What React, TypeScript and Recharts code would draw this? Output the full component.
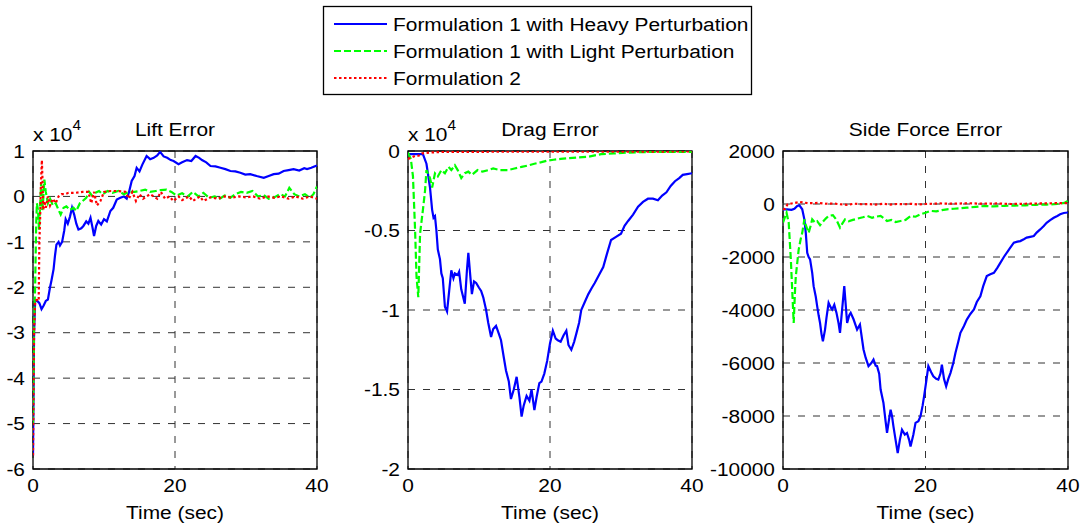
import React from 'react';
import { LineChart, Line, XAxis, YAxis, CartesianGrid, ReferenceArea } from 'recharts';

type Pt = [number, number];

const FONT = '"Liberation Sans", Arial, Helvetica, sans-serif';

const SERIES_NAMES = [
  'Formulation 1 with Heavy Perturbation',
  'Formulation 1 with Light Perturbation',
  'Formulation 2',
];
const PANEL_TITLES = ['Lift Error', 'Drag Error', 'Side Force Error'];
const X_LABEL = 'Time (sec)';
const TIME_TICKS = [0, 20, 40];
const LIFT_TICKS = [-6, -5, -4, -3, -2, -1, 0, 1];
const DRAG_TICKS = [-2, -1.5, -1, -0.5, 0];
const SIDE_TICKS = [-10000, -8000, -6000, -4000, -2000, 0, 2000];

// Lift error (x 10^4)
const liftHeavy: Pt[] = [[0,-5.7],[0.15,-3.0],[0.3,-2.3],[0.6,-2.3],[0.9,-2.35],[1.2,-2.48],[1.5,-2.4],[1.8,-2.3],[2.1,-2.27],[2.4,-2.0],[2.6,-1.85],[2.9,-1.6],[3.1,-1.3],[3.3,-1.06],[3.6,-1.0],[3.8,-1.08],[4.1,-1.0],[4.4,-0.75],[4.6,-0.5],[4.9,-0.6],[5.2,-0.45],[5.5,-0.25],[5.8,-0.4],[6.1,-0.6],[6.4,-0.73],[6.8,-0.7],[7.1,-0.65],[7.5,-0.55],[7.8,-0.6],[8.1,-0.47],[8.4,-0.7],[8.6,-0.87],[8.9,-0.65],[9.2,-0.54],[9.6,-0.62],[10,-0.5],[10.4,-0.55],[10.9,-0.32],[11.3,-0.25],[11.8,-0.07],[12.3,-0.03],[12.8,0.0],[13.2,-0.05],[13.5,0.08],[13.9,0.34],[14.3,0.45],[14.6,0.63],[15,0.55],[15.4,0.7],[16,0.89],[16.5,0.82],[17,0.85],[17.5,0.9],[17.9,0.98],[18.4,0.88],[18.9,0.85],[19.4,0.8],[19.8,0.78],[20.5,0.71],[21,0.75],[21.7,0.8],[22.3,0.78],[22.9,0.89],[23.4,0.85],[23.8,0.8],[24.4,0.75],[25,0.67],[25.7,0.66],[26.4,0.63],[27.1,0.6],[27.8,0.56],[28.5,0.55],[29.2,0.52],[29.9,0.48],[30.6,0.49],[31.5,0.45],[32.5,0.41],[33.2,0.45],[33.9,0.49],[34.6,0.5],[35.3,0.56],[36,0.58],[36.7,0.6],[37.5,0.57],[38.2,0.62],[38.6,0.6],[39.2,0.63],[39.8,0.67],[40,0.68]];
const liftLight: Pt[] = [[0,-5.0],[0.15,-2.8],[0.3,-2.0],[0.45,-0.6],[0.55,-0.15],[0.7,-0.3],[0.85,-0.73],[1.0,-0.2],[1.15,0.3],[1.3,-0.3],[1.45,-0.05],[1.6,0.37],[1.8,0.1],[2.1,-0.15],[2.4,-0.05],[2.8,-0.2],[3.2,-0.15],[3.6,-0.3],[3.9,-0.4],[4.3,-0.25],[4.7,-0.22],[5.2,-0.3],[5.7,-0.25],[6.1,-0.32],[6.6,-0.15],[7,-0.1],[7.5,-0.03],[7.9,0.1],[8.3,0.02],[8.8,0.08],[9.3,0.12],[9.8,0.05],[10.5,0.12],[11.2,0.08],[12,0.12],[12.8,0.05],[13.5,0.1],[14.3,0.1],[15,0.12],[15.8,0.15],[16.5,0.1],[17.3,0.12],[18,0.14],[18.8,0.15],[19.5,0.1],[20.2,0.02],[21,0.07],[21.8,0.0],[22.5,0.1],[23.3,0.0],[24,0.08],[24.8,-0.03],[25.6,0.0],[26.3,-0.05],[27,0.02],[27.8,-0.03],[28.5,0.05],[29.3,0.1],[30.1,0.08],[30.9,0.12],[31.7,0.0],[32.5,0.03],[33.2,-0.05],[34,-0.02],[34.8,0.05],[35.5,0.0],[36.1,0.19],[36.8,0.05],[37.5,0.0],[38.3,0.05],[39,-0.03],[39.5,0.05],[40,0.22]];
const liftF2: Pt[] = [[0,-5.7],[0.15,-3.0],[0.3,-2.3],[0.5,-2.28],[0.8,-2.3],[0.9,-1.0],[1.0,-0.5],[1.1,0.2],[1.25,0.8],[1.35,0.3],[1.45,-0.3],[1.6,-0.1],[1.8,-0.25],[2.1,0.0],[2.4,-0.2],[2.8,-0.05],[3.2,-0.15],[3.6,0.0],[4.0,0.05],[4.5,0.05],[5,0.08],[6,0.08],[7,0.1],[7.8,0.1],[8.2,-0.15],[8.6,0.1],[9.0,-0.2],[9.5,-0.1],[10,0.1],[11,0.12],[12,0.12],[13,0.1],[13.5,-0.05],[14,0.1],[14.5,-0.1],[15,0.05],[15.5,-0.05],[16.5,0.05],[17.5,-0.05],[18,0.1],[18.6,-0.05],[19.2,0.0],[19.8,-0.1],[20.5,0.0],[21,-0.08],[22,0.0],[22.5,-0.1],[23.5,0.0],[24,-0.1],[25,-0.02],[26,-0.05],[27,0.0],[28,-0.03],[29,0.0],[30,-0.02],[31,0.0],[32,-0.05],[33,0.0],[34,-0.03],[35,0.0],[36,-0.05],[37,0.0],[38,-0.05],[39,0.0],[40,-0.05]];

// Drag error (x 10^4)
const dragHeavy: Pt[] = [[0,-0.02],[1,-0.02],[2.1,-0.02],[2.6,-0.08],[3.1,-0.23],[3.4,-0.37],[3.6,-0.42],[3.8,-0.41],[4.0,-0.5],[4.2,-0.62],[4.5,-0.68],[4.7,-0.77],[4.9,-0.8],[5.2,-0.98],[5.5,-1.01],[5.8,-0.88],[6.1,-0.75],[6.4,-0.8],[6.6,-0.77],[7.0,-0.78],[7.2,-0.76],[7.5,-0.87],[8.0,-0.96],[8.3,-0.75],[8.5,-0.64],[8.8,-0.8],[9.0,-0.9],[9.3,-0.82],[9.6,-0.83],[10,-0.86],[10.3,-0.88],[10.6,-0.92],[11,-1.0],[11.3,-1.08],[11.7,-1.17],[12.0,-1.12],[12.4,-1.1],[12.8,-1.15],[13.1,-1.19],[13.5,-1.3],[13.8,-1.38],[14.2,-1.45],[14.5,-1.56],[14.9,-1.5],[15.3,-1.42],[15.7,-1.55],[16,-1.67],[16.3,-1.6],[16.7,-1.54],[17.1,-1.57],[17.4,-1.5],[17.8,-1.63],[18.1,-1.55],[18.5,-1.46],[18.8,-1.45],[19.2,-1.4],[19.6,-1.32],[20,-1.21],[20.4,-1.13],[20.8,-1.18],[21.1,-1.19],[21.5,-1.2],[21.9,-1.16],[22.3,-1.13],[22.6,-1.22],[23,-1.25],[23.4,-1.2],[23.7,-1.15],[24.1,-1.08],[24.4,-1.0],[24.9,-0.95],[25.4,-0.9],[25.9,-0.86],[26.3,-0.83],[26.9,-0.78],[27.5,-0.73],[28,-0.65],[28.6,-0.56],[29.3,-0.54],[30,-0.52],[30.5,-0.47],[31,-0.44],[31.7,-0.4],[32.4,-0.35],[33.1,-0.32],[33.8,-0.3],[34.5,-0.3],[35.2,-0.31],[35.8,-0.28],[36.4,-0.26],[37,-0.22],[37.6,-0.19],[38.2,-0.17],[38.7,-0.15],[39.3,-0.145],[40,-0.14]];
const dragLight: Pt[] = [[0,-0.01],[0.4,-0.05],[0.7,-0.16],[1,-0.5],[1.2,-0.79],[1.45,-0.92],[1.7,-0.52],[2.1,-0.37],[2.4,-0.25],[2.6,-0.12],[3.1,-0.17],[3.4,-0.23],[3.8,-0.14],[4.2,-0.16],[4.7,-0.12],[5.2,-0.14],[5.7,-0.1],[6.1,-0.12],[6.6,-0.09],[7.0,-0.12],[7.5,-0.17],[8,-0.14],[8.5,-0.13],[9,-0.15],[9.8,-0.12],[10.5,-0.13],[11.3,-0.12],[12,-0.11],[13,-0.12],[14.1,-0.12],[15,-0.11],[16,-0.1],[17,-0.09],[17.8,-0.08],[18.8,-0.07],[19.7,-0.06],[20.5,-0.055],[21.5,-0.05],[22.5,-0.045],[24,-0.04],[25.5,-0.035],[27.2,-0.02],[29,-0.015],[31,-0.01],[34,-0.006],[37,-0.005],[40,-0.005]];
const dragF2: Pt[] = [[0,-0.05],[0.5,-0.04],[1,-0.03],[1.5,-0.03],[2,-0.015],[3,-0.01],[5,-0.005],[10,-0.005],[20,-0.004],[30,-0.004],[40,-0.003]];

// Side force error
const sideHeavy: Pt[] = [[0,-200],[0.56,-200],[1.2,-220],[1.6,-180],[2,-75],[2.3,-50],[2.7,-200],[3,-580],[3.2,-1100],[3.4,-1840],[3.6,-2000],[3.8,-2090],[4.1,-2600],[4.3,-3100],[4.6,-3500],[4.8,-3860],[5.0,-4200],[5.2,-4490],[5.4,-4900],[5.6,-5180],[5.9,-4740],[6.1,-4300],[6.4,-3730],[6.7,-3900],[6.9,-3980],[7.2,-3800],[7.5,-4100],[7.8,-4500],[8,-4860],[8.3,-3980],[8.6,-3100],[9,-4490],[9.3,-4200],[9.5,-4110],[9.9,-4350],[10.4,-4740],[10.8,-4550],[11.3,-5490],[11.6,-5800],[12,-6120],[12.4,-6000],[12.7,-5870],[13,-6100],[13.2,-6120],[13.5,-6400],[13.7,-7000],[14.1,-7510],[14.4,-8200],[14.6,-8640],[14.9,-8100],[15.1,-7760],[15.3,-8000],[15.5,-8390],[15.8,-8900],[16.1,-9400],[16.4,-8900],[16.7,-8520],[17.1,-8700],[17.4,-8640],[17.7,-8900],[17.9,-9150],[18.3,-8700],[18.6,-8260],[19,-8200],[19.3,-8010],[19.6,-7600],[19.8,-7260],[20.1,-6700],[20.4,-6120],[20.8,-6350],[21.1,-6500],[21.5,-6600],[21.8,-6630],[22.1,-6400],[22.3,-6060],[22.6,-6600],[22.9,-6880],[23.2,-6600],[23.5,-6380],[23.9,-6000],[24.2,-5620],[24.6,-5200],[24.9,-4860],[25.4,-4600],[25.8,-4360],[26.3,-4150],[26.8,-3980],[27.2,-3700],[27.7,-3480],[28.1,-3100],[28.6,-2720],[29.1,-2650],[29.6,-2600],[30.1,-2400],[30.5,-2220],[31,-2000],[31.4,-1840],[31.9,-1650],[32.4,-1460],[32.9,-1420],[33.3,-1400],[33.8,-1330],[34.2,-1270],[34.7,-1240],[35.2,-1210],[35.6,-1080],[36.1,-960],[36.6,-830],[37,-710],[37.5,-610],[38,-520],[38.5,-450],[38.9,-390],[39.4,-340],[40,-320]];
const sideLight: Pt[] = [[0,-700],[0.5,-330],[0.8,-700],[1.1,-2090],[1.3,-3300],[1.5,-4490],[1.7,-3200],[1.8,-2720],[2.2,-1720],[2.5,-1300],[2.7,-1090],[3,-580],[3.2,-800],[3.6,-1090],[3.9,-800],[4.1,-580],[4.5,-700],[4.8,-650],[5.2,-800],[5.5,-700],[6,-550],[6.4,-450],[7,-420],[7.5,-600],[8,-890],[8.3,-750],[8.7,-580],[9.2,-650],[9.8,-600],[10.5,-550],[11.2,-500],[11.8,-450],[12.5,-520],[13,-480],[13.7,-450],[14.2,-550],[14.6,-640],[15.2,-600],[15.8,-680],[16.5,-640],[17.2,-600],[17.9,-450],[18.6,-480],[19.3,-390],[20,-330],[20.7,-260],[21.5,-280],[22.3,-230],[23,-200],[24,-180],[25,-160],[25.8,-140],[27,-110],[28.2,-75],[29.5,-90],[31,-70],[32.5,-60],[34,-50],[35.5,-30],[37,-20],[38.5,0],[39.5,40],[40,120]];
const sideF2: Pt[] = [[0,-200],[0.3,-180],[0.65,-12],[1.2,20],[2.4,75],[3.5,30],[5,40],[6,10],[7,20],[8,-10],[9,-30],[10,10],[11,-10],[12,0],[13,-20],[14,10],[15,-20],[16,0],[17,-10],[18,10],[19,-20],[20,0],[22,20],[24,10],[26,30],[28,10],[30,20],[32,0],[34,10],[36,20],[38,30],[40,30]];

const STYLES = [
  { color: '#0000FF', dash: undefined as string | undefined },
  { color: '#00FF00', dash: '7 3' },
  { color: '#FF0000', dash: '2.5 2.5' },
];

const toData = (pts: Pt[]) => pts.map(([t, v]) => ({ t, v }));

const FS = 19;
const SX = 1.1;

function YTick(props: any) {
  const { x, y, payload } = props;
  return (
    <text transform={`translate(${x},${y}) scale(${SX},1)`} textAnchor="end" dy="0.355em" fontSize={FS} fontFamily={FONT} fill="#000">
      {String(payload.value)}
    </text>
  );
}

function XTick(props: any) {
  const { x, y, payload } = props;
  return (
    <text transform={`translate(${x},${y}) scale(${SX},1)`} textAnchor="middle" dy="0.71em" fontSize={FS} fontFamily={FONT} fill="#000">
      {String(payload.value)}
    </text>
  );
}

function SText({ x, y, anchor, children, size = FS }: { x: number; y: number; anchor?: 'start' | 'middle' | 'end'; children: React.ReactNode; size?: number }) {
  return (
    <text transform={`translate(${x},${y}) scale(${SX},1)`} textAnchor={anchor || 'start'} fontSize={size} fontFamily={FONT} fill="#000">
      {children}
    </text>
  );
}

type PanelProps = {
  left: number;
  width: number;
  yw: number;
  mr: number;
  ticks: number[];
  series: Pt[][];
};

function Panel({ left, width, yw, mr, ticks, series }: PanelProps) {
  const domain: [number, number] = [ticks[0], ticks[ticks.length - 1]];
  return (
    <div style={{ position: 'absolute', left, top: 100 }}>
      <LineChart width={width} height={427} margin={{ top: 51, right: mr, bottom: 28, left: 0 }}>
        <CartesianGrid stroke="#333" strokeDasharray="7 8" />
        <XAxis
          dataKey="t"
          type="number"
          domain={[0, 40]}
          ticks={TIME_TICKS}
          interval={0}
          allowDataOverflow
          height={30}
          tickLine={false}
          axisLine={false}
          tickMargin={4}
          tick={<XTick />}
        />
        <YAxis
          type="number"
          domain={domain}
          ticks={ticks}
          interval={0}
          allowDataOverflow
          width={yw}
          tickLine={false}
          axisLine={false}
          tick={<YTick />}
        />
        <ReferenceArea
          x1={0}
          x2={40}
          y1={domain[0]}
          y2={domain[1]}
          fill="none"
          fillOpacity={0}
          stroke="#000"
          strokeWidth={1.3}
          ifOverflow="visible"
        />
        {series.map((pts, i) => (
          <Line
            key={i}
            data={toData(pts)}
            dataKey="v"
            name={SERIES_NAMES[i]}
            stroke={STYLES[i].color}
            strokeWidth={2.2}
            strokeDasharray={STYLES[i].dash}
            dot={false}
            activeDot={false}
            isAnimationActive={false}
            type="linear"
          />
        ))}
      </LineChart>
    </div>
  );
}

const PLOTS = [
  { x0: 33, x1: 317 },
  { x0: 408, x1: 692 },
  { x0: 783, x1: 1068 },
];

export default function App() {
  return (
    <div style={{ position: 'fixed', left: 0, top: 0, width: 1083, height: 527, background: '#fff', fontFamily: FONT }}>
      <Panel left={0} width={330} yw={33} mr={13} ticks={LIFT_TICKS} series={[liftHeavy, liftLight, liftF2]} />
      <Panel left={340} width={370} yw={68} mr={18} ticks={DRAG_TICKS} series={[dragHeavy, dragLight, dragF2]} />
      <Panel left={700} width={383} yw={83} mr={15} ticks={SIDE_TICKS} series={[sideHeavy, sideLight, sideF2]} />
      <svg width={1083} height={527} style={{ position: 'absolute', left: 0, top: 0, pointerEvents: 'none' }}>
        {PLOTS.map((p, i) => (
          <g key={i}>
            <SText x={(p.x0 + p.x1) / 2} y={136} anchor="middle">{PANEL_TITLES[i]}</SText>
            <SText x={(p.x0 + p.x1) / 2} y={519} anchor="middle">{X_LABEL}</SText>
          </g>
        ))}
        {[0, 1].map((i) => (
          <SText key={i} x={PLOTS[i].x0} y={141}>
            x 10
            <tspan fontSize={14} dy={-11}>4</tspan>
          </SText>
        ))}
        <rect x={323.5} y={6.5} width={428} height={88} fill="#fff" stroke="#000" strokeWidth={1.3} />
        {SERIES_NAMES.map((name, i) => (
          <g key={i}>
            <line x1={334} x2={387} y1={24 + i * 27} y2={24 + i * 27} stroke={STYLES[i].color} strokeWidth={2.2} strokeDasharray={STYLES[i].dash} />
            <SText x={393} y={31 + i * 27}>{name}</SText>
          </g>
        ))}
      </svg>
    </div>
  );
}
